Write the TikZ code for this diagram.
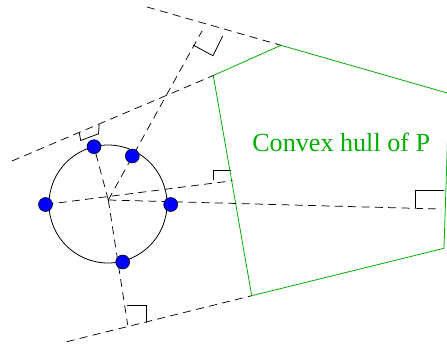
\documentclass[tikz,border=0pt]{standalone}
\usepackage{fontspec}
\setmainfont{Liberation Serif}
\definecolor{hullgreen}{RGB}{0,176,0}
\definecolor{dotblue}{RGB}{0,0,255}

\begin{document}
\begin{tikzpicture}[x=0.75pt,y=-0.75pt,
  guide/.style={dash pattern=on 6pt off 4pt,line width=0.55pt},
  corner/.style={line width=0.6pt},
  hull/.style={draw=hullgreen,line width=0.6pt},
  dot/.style={circle,draw=black,fill=dotblue,line width=0.4pt,minimum size=10.5pt,inner sep=0pt},
  label/.style={text=hullgreen,font=\fontsize{19.6}{22}\selectfont,inner sep=0pt,anchor=base west}
]
  \useasboundingbox (0,0) rectangle (447,347);
  \clip (0,0) rectangle (447,347);

  \coordinate (o) at (108.3,200);
  \coordinate (ctr) at (108,204);
  \coordinate (p1) at (94,146.7);
  \coordinate (p2) at (132.3,156);
  \coordinate (p3) at (45.5,204.5);
  \coordinate (p4) at (170.7,204.5);
  \coordinate (p5) at (122.7,262);

  \coordinate (a) at (213.3,75.5);
  \coordinate (b) at (281,45.3);
  \coordinate (c) at (449,93.5);
  \coordinate (d) at (444,248.3);
  \coordinate (e) at (251.7,295.7);

  \coordinate (s1) at (12,161);
  \coordinate (s2) at (147,7);
  \coordinate (s5) at (66.7,341.7);
  \coordinate (f2) at (202,31);
  \coordinate (f3) at (232.5,180.7);
  \coordinate (f4) at (440,209);
  \coordinate (f5) at (127.7,325);

  \draw[hull] (a) -- (b) -- (c) -- (d) -- (e) -- cycle;
  \node[label] (title) at (252,151.7) {Convex hull of P};

  \draw[line width=0.6pt] (ctr) circle[radius=59];

  \draw[guide] (s1) -- (a);
  \draw[guide] (s2) -- (b);
  \draw[guide] (s5) -- (e);
  \draw[guide] (o) -- (p1);
  \draw[guide] (o) -- (f2);
  \draw[guide] (p3) -- (f3);
  \draw[guide] (o) -- (f4);
  \draw[guide] (o) -- (f5);

  \draw[corner] (79.3,132.7) -- (80.7,140.5) -- (98.5,133.8) -- (99.2,124.5);
  \draw[corner] (193,45) -- (213,55.7) -- (222.7,36);
  \draw[corner] (213.3,180) -- (213.3,170.7) -- (231,170.7);
  \draw[corner] (415.7,208.3) -- (415.7,190) -- (444,190);
  \draw[corner] (126.7,305) -- (146.7,305) -- (146.7,323.3);

  \node[dot] (dot1) at (p1) {};
  \node[dot] (dot2) at (p2) {};
  \node[dot] (dot3) at (p3) {};
  \node[dot] (dot4) at (p4) {};
  \node[dot] (dot5) at (p5) {};
\end{tikzpicture}
\end{document}
